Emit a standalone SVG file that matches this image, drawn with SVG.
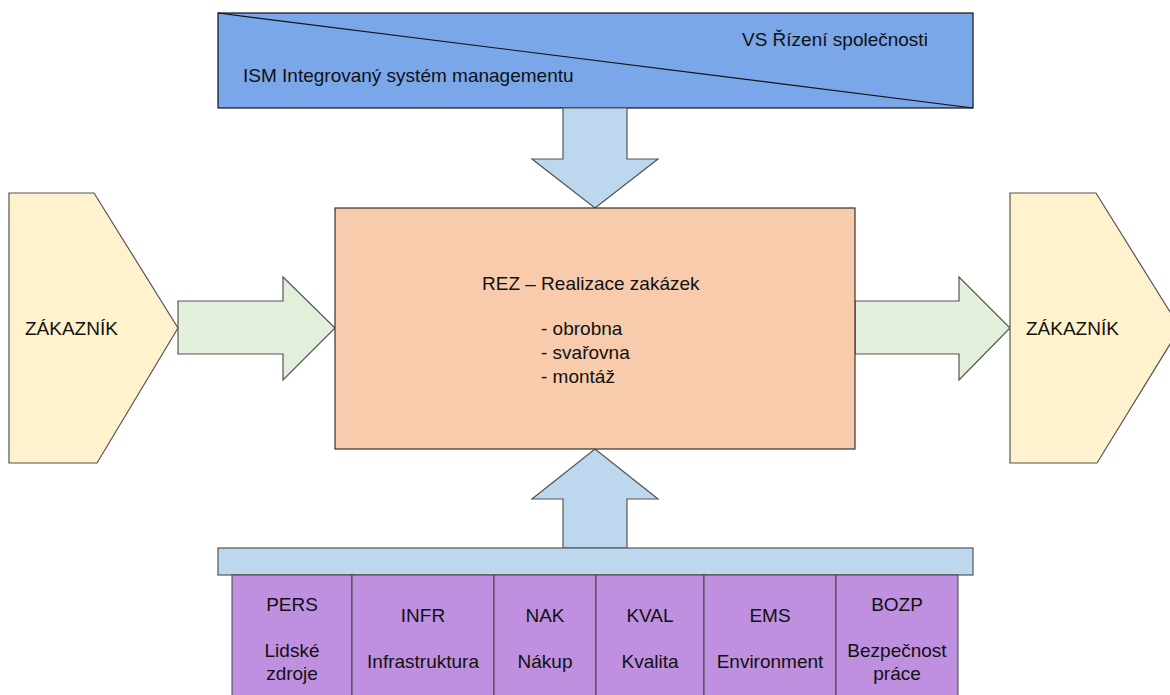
<svg xmlns="http://www.w3.org/2000/svg" width="1170" height="695" viewBox="0 0 1170 695">
<style>
text{font-family:"Liberation Sans",Arial,sans-serif;font-size:19px;fill:#111}
.mid{text-anchor:middle}
.blue{fill:#bdd7ee;stroke:#555;stroke-width:1.2}
.green{fill:#e2efda;stroke:#555;stroke-width:1.2}
.cust{fill:#fff2cc;stroke:#555;stroke-width:1.2}
.cell{fill:#bf8fe0;stroke:#444;stroke-width:1}
</style>
<rect width="1170" height="695" fill="#fff"/>
<g id="top">
<rect x="218" y="13" width="755" height="95" fill="#7aa7e9" stroke="#111" stroke-width="1.2"/>
<line x1="218" y1="13" x2="973" y2="108" stroke="#111" stroke-width="1.2"/>
<text x="742" y="46">VS Řízení společnosti</text>
<text x="243" y="82">ISM Integrovaný systém managementu</text>
</g>
<g id="connectors">
<path class="blue" d="M563,108 L627,108 L627,159 L658,159 L595,208 L532,159 L563,159 Z"/>
<path class="blue" d="M563,548 L627,548 L627,499 L658,499 L595,449 L532,499 L563,499 Z"/>
<path class="green" d="M178,301 L283,301 L283,277 L335,328 L283,380 L283,354 L178,354 Z"/>
<path class="green" d="M855,301 L959,301 L959,277 L1010,328 L959,380 L959,354 L855,354 Z"/>
</g>
<g id="customer-left">
<path class="cust" d="M9,193 L94,193 L178,328 L97,463 L9,463 Z"/>
<text x="25" y="335">ZÁKAZNÍK</text>
</g>
<g id="customer-right">
<path class="cust" d="M1010,193 L1096,193 L1180,328 L1097,463 L1010,463 Z"/>
<text x="1026" y="335">ZÁKAZNÍK</text>
</g>
<g id="rez">
<rect x="335" y="208" width="520" height="241" fill="#f8cbad" stroke="#333" stroke-width="1.2"/>
<text x="482" y="290">REZ – Realizace zakázek</text>
<text x="541" y="335">- obrobna</text>
<text x="541" y="359">- svařovna</text>
<text x="541" y="383">- montáž</text>
</g>
<g id="support-bar">
<rect x="218" y="548" width="755" height="27" fill="#bdd7ee" stroke="#555" stroke-width="1.2"/>
</g>
<g id="pers">
<rect class="cell" x="232" y="575" width="120" height="125"/>
<text class="mid" x="292" y="611">PERS</text>
<text class="mid" x="292" y="657">Lidské</text>
<text class="mid" x="292" y="680">zdroje</text>
</g>
<g id="infr">
<rect class="cell" x="352" y="575" width="142" height="125"/>
<text class="mid" x="423" y="622">INFR</text>
<text class="mid" x="423" y="668">Infrastruktura</text>
</g>
<g id="nak">
<rect class="cell" x="494" y="575" width="102" height="125"/>
<text class="mid" x="545" y="622">NAK</text>
<text class="mid" x="545" y="668">Nákup</text>
</g>
<g id="kval">
<rect class="cell" x="596" y="575" width="108" height="125"/>
<text class="mid" x="650" y="622">KVAL</text>
<text class="mid" x="650" y="668">Kvalita</text>
</g>
<g id="ems">
<rect class="cell" x="704" y="575" width="132" height="125"/>
<text class="mid" x="770" y="622">EMS</text>
<text class="mid" x="770" y="668">Environment</text>
</g>
<g id="bozp">
<rect class="cell" x="836" y="575" width="122" height="125"/>
<text class="mid" x="897" y="611">BOZP</text>
<text class="mid" x="897" y="657">Bezpečnost</text>
<text class="mid" x="897" y="680">práce</text>
</g>
</svg>
